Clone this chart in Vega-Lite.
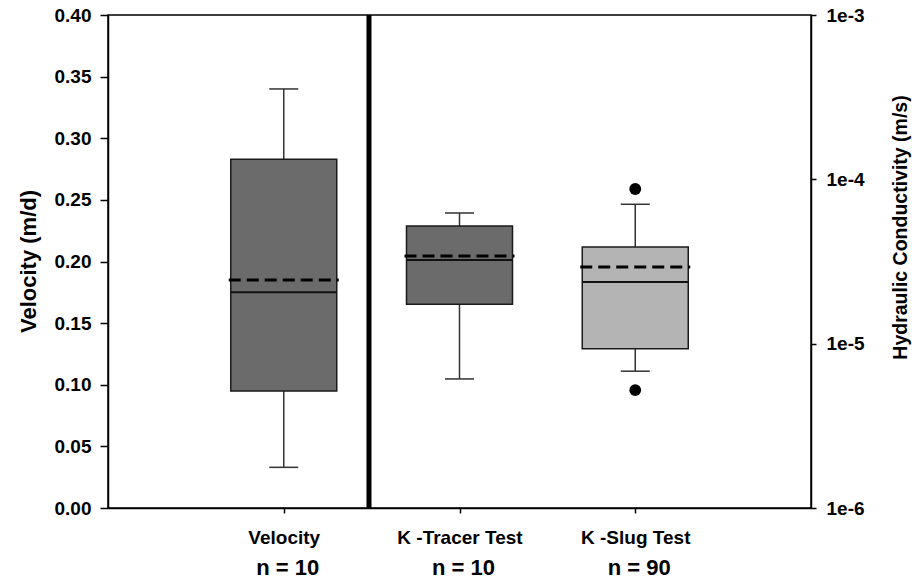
{
  "$schema": "https://vega.github.io/schema/vega-lite/v6.json",
  "width": 703,
  "height": 493,
  "autosize": "none",
  "padding": {"left": 108, "top": 15, "right": 101, "bottom": 71},
  "background": "white",
  "config": {
    "view": {"stroke": "black", "strokeWidth": 1.5},
    "axis": {
      "grid": false,
      "labelFont": "Liberation Sans",
      "labelFontWeight": "bold",
      "labelFontSize": 19,
      "labelColor": "black",
      "titleFont": "Liberation Sans",
      "titleFontWeight": "bold",
      "titleFontSize": 20,
      "titleColor": "black",
      "domainColor": "black",
      "domainWidth": 1.5,
      "tickColor": "black",
      "tickWidth": 1.5
    }
  },
  "datasets": {
    "vel": [
      {"group": "Velocity", "pos": 1, "lo": 0.033, "q1": 0.095, "med": 0.175, "mean": 0.185, "q3": 0.283, "hi": 0.34}
    ],
    "k": [
      {"group": "K -Tracer Test", "pos": 2, "lo": 6.1e-6, "q1": 1.74e-5, "med": 3.23e-5, "mean": 3.42e-5, "q3": 5.2e-5, "hi": 6.24e-5, "fill": "dark"},
      {"group": "K -Slug Test", "pos": 3, "lo": 6.8e-6, "q1": 9.3e-6, "med": 2.37e-5, "mean": 2.93e-5, "q3": 3.87e-5, "hi": 7.05e-5, "fill": "light"}
    ],
    "out": [
      {"group": "K -Slug Test", "pos": 3, "val": 8.73e-5},
      {"group": "K -Slug Test", "pos": 3, "val": 5.22e-6}
    ],
    "counts": [
      {"group": "Velocity", "pos": 1, "n": "n = 10"},
      {"group": "K -Tracer Test", "pos": 2, "n": "n = 10"},
      {"group": "K -Slug Test", "pos": 3, "n": "n = 90"}
    ]
  },
  "layer": [
    {
      "encoding": {
        "x": {
          "field": "pos", "type": "quantitative",
          "scale": {"domain": [0, 4], "nice": false, "zero": false},
          "axis": {
            "title": null, "values": [1, 2, 3], "tickSize": 5, "labelPadding": 15,
            "labelBaseline": "top", "labelOverlap": false, "labelFlush": false,
            "labelExpr": "datum.value == 1 ? 'Velocity' : datum.value == 2 ? 'K -Tracer Test' : 'K -Slug Test'"
          }
        }
      },
      "layer": [
        {
          "data": {"name": "vel"},
          "mark": {"type": "rule", "color": "#333333", "strokeWidth": 1.5},
          "encoding": {
            "y": {"field": "lo", "type": "quantitative",
              "scale": {"domain": [0, 0.4], "nice": false, "zero": true},
              "axis": {"orient": "left", "title": "Velocity (m/d)", "titleFontSize": 22, "values": [0, 0.05, 0.1, 0.15, 0.2, 0.25, 0.3, 0.35, 0.4], "format": ".2f", "tickSize": 8, "labelPadding": 9, "titleX": -73, "titleY": 246, "titleAngle": 270, "titleBaseline": "alphabetic", "titleAlign": "center"}},
            "y2": {"field": "hi"}
          }
        },
        {
          "data": {"name": "vel"},
          "mark": {"type": "rule", "color": "#333333", "strokeWidth": 1.5, "xOffset": -14.5, "x2Offset": 14.5},
          "encoding": {"x2": {"field": "pos"}, "y": {"field": "hi", "type": "quantitative"}}
        },
        {
          "data": {"name": "vel"},
          "mark": {"type": "rule", "color": "#333333", "strokeWidth": 1.5, "xOffset": -14.5, "x2Offset": 14.5},
          "encoding": {"x2": {"field": "pos"}, "y": {"field": "lo", "type": "quantitative"}}
        },
        {
          "data": {"name": "vel"},
          "mark": {"type": "rect", "fill": "#6b6b6b", "stroke": "#1a1a1a", "strokeWidth": 1.5, "xOffset": -53, "x2Offset": 53},
          "encoding": {"x2": {"field": "pos"}, "y": {"field": "q1", "type": "quantitative"}, "y2": {"field": "q3"}}
        },
        {
          "data": {"name": "vel"},
          "mark": {"type": "rule", "color": "#111111", "strokeWidth": 2, "xOffset": -53, "x2Offset": 53},
          "encoding": {"x2": {"field": "pos"}, "y": {"field": "med", "type": "quantitative"}}
        },
        {
          "data": {"name": "vel"},
          "mark": {"type": "rule", "color": "#000000", "strokeWidth": 3, "strokeDash": [12, 6], "xOffset": -55, "x2Offset": 55},
          "encoding": {"x2": {"field": "pos"}, "y": {"field": "mean", "type": "quantitative"}}
        },
        {
          "data": {"name": "counts"},
          "mark": {"type": "text", "font": "Liberation Sans", "fontWeight": "bold", "fontSize": 22, "color": "black", "align": "center", "baseline": "alphabetic", "dy": 67, "dx": 4},
          "encoding": {"y": {"datum": 0, "type": "quantitative"}, "text": {"field": "n"}}
        }
      ]
    },
    {
      "encoding": {
        "x": {
          "field": "pos", "type": "quantitative",
          "scale": {"domain": [0, 4], "nice": false, "zero": false},
          "axis": {
            "title": null, "values": [1, 2, 3], "tickSize": 5, "labelPadding": 15,
            "labelBaseline": "top", "labelOverlap": false, "labelFlush": false,
            "labelExpr": "datum.value == 1 ? 'Velocity' : datum.value == 2 ? 'K -Tracer Test' : 'K -Slug Test'"
          }
        }
      },
      "layer": [
        {
          "data": {"name": "k"},
          "mark": {"type": "rule", "color": "#333333", "strokeWidth": 1.5},
          "encoding": {
            "y": {"field": "lo", "type": "quantitative",
              "scale": {"type": "log", "domain": [1e-6, 1e-3], "nice": false},
              "axis": {"orient": "right", "title": "Hydraulic Conductivity (m/s)", "titleFontSize": 19.5, "values": [1e-6, 1e-5, 1e-4, 1e-3], "labelExpr": "'1e-' + round(-log(datum.value) / LN10)", "tickSize": 5, "labelPadding": 10, "titleX": 95, "titleY": 212, "titleAngle": 270, "titleBaseline": "alphabetic", "titleAlign": "center"}},
            "y2": {"field": "hi"}
          }
        },
        {
          "data": {"name": "k"},
          "mark": {"type": "rule", "color": "#333333", "strokeWidth": 1.5, "xOffset": -14.5, "x2Offset": 14.5},
          "encoding": {"x2": {"field": "pos"}, "y": {"field": "hi", "type": "quantitative"}}
        },
        {
          "data": {"name": "k"},
          "mark": {"type": "rule", "color": "#333333", "strokeWidth": 1.5, "xOffset": -14.5, "x2Offset": 14.5},
          "encoding": {"x2": {"field": "pos"}, "y": {"field": "lo", "type": "quantitative"}}
        },
        {
          "data": {"name": "k"},
          "mark": {"type": "rect", "stroke": "#1a1a1a", "strokeWidth": 1.5, "xOffset": -53, "x2Offset": 53},
          "encoding": {
            "x2": {"field": "pos"},
            "y": {"field": "q1", "type": "quantitative"},
            "y2": {"field": "q3"},
            "fill": {"field": "fill", "type": "nominal", "scale": {"domain": ["dark", "light"], "range": ["#6b6b6b", "#b4b4b4"]}, "legend": null}
          }
        },
        {
          "data": {"name": "k"},
          "mark": {"type": "rule", "color": "#111111", "strokeWidth": 2, "xOffset": -53, "x2Offset": 53},
          "encoding": {"x2": {"field": "pos"}, "y": {"field": "med", "type": "quantitative"}}
        },
        {
          "data": {"name": "k"},
          "mark": {"type": "rule", "color": "#000000", "strokeWidth": 3, "strokeDash": [12, 6], "xOffset": -55, "x2Offset": 55},
          "encoding": {"x2": {"field": "pos"}, "y": {"field": "mean", "type": "quantitative"}}
        },
        {
          "data": {"name": "out"},
          "mark": {"type": "circle", "color": "black", "opacity": 1, "size": 140},
          "encoding": {"y": {"field": "val", "type": "quantitative"}}
        }
      ]
    },
    {
      "data": {"values": [{}]},
      "mark": {"type": "rule", "color": "black", "strokeWidth": 5},
      "encoding": {"x": {"datum": 1.485, "type": "quantitative"}}
    }
  ],
  "resolve": {"scale": {"y": "independent"}, "axis": {"y": "independent"}}
}
